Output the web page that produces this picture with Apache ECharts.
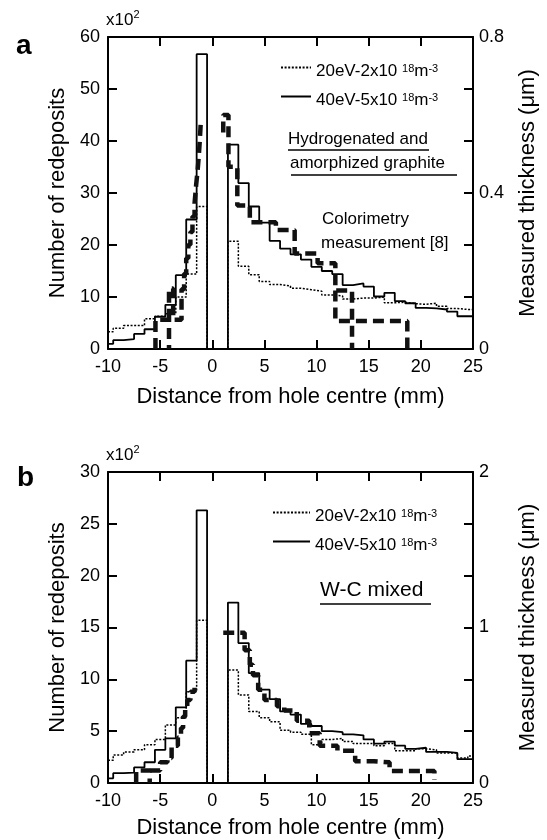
<!DOCTYPE html>
<html>
<head>
<meta charset="utf-8">
<script src="https://cdn.jsdelivr.net/npm/echarts@6/dist/echarts.min.js"></script>
<style>
html, body { margin: 0; padding: 0; background: #fff; }
#chart { width: 547px; height: 840px; }
</style>
</head>
<body>
<div id="chart"></div>
<script>
// bin centres (mm), 1 mm wide bins, first and last are half bins
var binCentres = [-10, -9, -8, -7, -6, -5, -4, -3, -2, -1, 0, 1, 2, 3, 4, 5, 6, 7, 8, 9,
	10, 11, 12, 13, 14, 15, 16, 17, 18, 19, 20, 21, 22, 23, 24, 25];

// (a) hydrogenated and amorphized graphite, x10^2 redeposits
var solidA = [1.0, 1.7, 1.9, 2.9, 3.8, 6.2, 8.5, 14.2, 24.9, 56.7, 0, 0, 39.3, 31.9, 27.4, 24.3,
	20.8, 19.3, 18.2, 17.2, 15.8, 15.0, 14.4, 12.3, 12.6, 12.0, 10.1, 10.8, 9.2, 8.8, 7.9, 7.8,
	7.6, 7.2, 6.3, 6.3];
var dotA = [3.3, 4.0, 4.5, 4.5, 5.8, 6.3, 6.8, 10.0, 14.4, 27.4, 0, 0, 20.7, 15.9, 14.3, 13.0,
	12.4, 12.1, 11.7, 11.4, 11.1, 10.4, 10.2, 9.6, 9.8, 9.8, 10.0, 8.9, 9.0, 8.7, 8.6, 8.8,
	8.2, 7.8, 7.6, 7.6];

// (b) W-C mixed
var solidB = [0.45, 0.95, 1.0, 1.5, 2.0, 3.2, 4.3, 7.3, 11.8, 26.3, 0, 0, 17.4, 13.5, 10.6, 9.0,
	8.1, 6.9, 6.6, 5.7, 5.5, 5.0, 4.9, 4.7, 4.6, 4.2, 3.8, 4.0, 3.6, 3.3, 3.4, 3.0,
	3.0, 2.9, 2.3, 2.3];
var dotB = [2.2, 2.7, 3.0, 3.2, 3.7, 4.2, 5.6, 6.3, 8.8, 15.7, 0, 0, 10.9, 8.5, 6.9, 6.3,
	5.9, 5.1, 4.9, 4.7, 3.7, 4.2, 4.3, 4.0, 3.8, 3.8, 3.6, 3.8, 3.1, 3.1, 3.3, 3.2,
	2.9, 2.9, 2.4, 2.6];

// colorimetry measurement [8], thickness in um, [x mm, um] profile pieces
var measA1 = [[-5.45, 0], [-5.45, 0.075], [-4.15, 0.075], [-4.15, 0]];
var measA2 = [[-4.15, 0.075], [-4.15, 0.155], [-3.75, 0.155], [-3.75, 0.075], [-2.95, 0.075],
	[-2.95, 0.153], [-2.7, 0.153], [-2.7, 0.193], [-2.5, 0.193], [-2.5, 0.233], [-2.3, 0.233],
	[-2.3, 0.267], [-2.1, 0.267], [-2.1, 0.30], [-1.9, 0.30], [-1.9, 0.34], [-1.7, 0.34],
	[-1.7, 0.373], [-1.55, 0.373], [-1.55, 0.42], [-1.4, 0.42], [-1.4, 0.46], [-1.3, 0.46],
	[-1.3, 0.493], [-1.2, 0.493], [-1.2, 0.533], [-1.1, 0.533], [-1.1, 0.583]];
var measA3 = [[1.05, 0.555], [1.05, 0.60], [1.55, 0.60], [1.55, 0.467], [2.4, 0.467], [2.4, 0.368],
	[3.6, 0.368], [3.6, 0.325], [6.1, 0.325], [6.1, 0.305], [7.9, 0.305], [7.9, 0.245],
	[10.1, 0.245], [10.1, 0.22], [11.8, 0.22], [11.8, 0.15], [13.4, 0.15], [13.4, 0]];
var measA4 = [[11.8, 0.15], [11.8, 0.072], [18.7, 0.072], [18.7, 0]];

var measB1 = [[-7.3, 0], [-7.3, 0.08], [-6.0, 0.08], [-6.0, 0]];
var measB2 = [[-6.0, 0.08], [-5.0, 0.08], [-5.0, 0.133], [-4.3, 0.133], [-4.3, 0.16], [-3.9, 0.16],
	[-3.9, 0.24], [-3.3, 0.24], [-3.3, 0.293], [-3.0, 0.293], [-3.0, 0.353], [-2.8, 0.353],
	[-2.8, 0.427], [-2.6, 0.427], [-2.6, 0.487], [-2.4, 0.487], [-2.4, 0.533], [-2.1, 0.533],
	[-2.1, 0.587], [-1.7, 0.587], [-1.7, 0.613]];
var measB3 = [[1.05, 0.967], [3.1, 0.967], [3.1, 0.853], [3.6, 0.853], [3.6, 0.76], [3.9, 0.76],
	[3.9, 0.693], [4.4, 0.693], [4.4, 0.60], [5.0, 0.60], [5.0, 0.533], [6.2, 0.533],
	[6.2, 0.493], [6.9, 0.493], [6.9, 0.467], [8.1, 0.467], [8.1, 0.40], [9.3, 0.40],
	[9.3, 0.32], [10.3, 0.32], [10.3, 0.24], [12.0, 0.24], [12.0, 0.207], [13.7, 0.207],
	[13.7, 0.14], [15.5, 0.14], [15.5, 0.133], [17.0, 0.133], [17.0, 0.077], [21.3, 0.077],
	[21.3, 0.02]];

var xTicks = [-10, 25, 5];
var rightLabelsA = [0, 0.4, 0.8];
var rightLabelsB = [0, 1, 2];

var FF = '"Liberation Sans", Arial, sans-serif';

// histogram bins -> step line points
function stepPts(vals) {
	var pts = [];
	for (var i = 0; i < vals.length; i++) {
		var left = i === 0 ? xTicks[0] : binCentres[i] - 0.5;
		pts.push([left, vals[i]]);
	}
	pts.push([xTicks[1], vals[vals.length - 1]]);
	return pts;
}

var axisLine = { onZero : false, lineStyle : { color : '#000', width : 2 } };
var axisTick = { inside : true, length : 9, lineStyle : { color : '#000', width : 2 } };
var labelStyle = { color : '#000', fontSize : 18, fontFamily : FF };

function xAxes(grid, gap) {
	return [ {
		gridIndex : grid, type : 'value', position : 'bottom',
		min : xTicks[0], max : xTicks[1], interval : xTicks[2],
		axisLine : axisLine, axisTick : axisTick, splitLine : { show : false },
		axisLabel : Object.assign({ margin : 9 }, labelStyle),
		name : 'Distance from hole centre (mm)', nameLocation : 'middle', nameGap : gap,
		nameTextStyle : { color : '#000', fontSize : 22, fontFamily : FF }
	}, {
		gridIndex : grid, type : 'value', position : 'top',
		min : xTicks[0], max : xTicks[1], interval : xTicks[2],
		axisLine : axisLine, axisTick : axisTick, splitLine : { show : false },
		axisLabel : { show : false }
	} ];
}

function yAxes(grid, max, step, rmax, rlabels) {
	return [ {
		gridIndex : grid, type : 'value', position : 'left',
		min : 0, max : max, interval : step,
		axisLine : axisLine, axisTick : axisTick, splitLine : { show : false },
		axisLabel : Object.assign({ margin : 8 }, labelStyle),
		name : 'Number of redeposits', nameLocation : 'middle', nameGap : 37, nameRotate : 90,
		nameTextStyle : { color : '#000', fontSize : 22, fontFamily : FF }
	}, {
		gridIndex : grid, type : 'value', position : 'right',
		min : 0, max : rmax, interval : rmax / 6,
		axisLine : axisLine, axisTick : axisTick, splitLine : { show : false },
		axisLabel : Object.assign({
			margin : 6,
			formatter : function(v) {
				var r = Math.round(v * 100) / 100;
				return rlabels.indexOf(r) >= 0 ? String(r) : '';
			}
		}, labelStyle),
		name : 'Measured thickness (\u03bcm)', nameLocation : 'middle', nameGap : 44, nameRotate : 90,
		nameTextStyle : { color : '#000', fontSize : 22, fontFamily : FF }
	} ];
}

function histSeries(name, xi, yi, vals, dotted) {
	return {
		name : name, type : 'line', step : 'end', xAxisIndex : xi, yAxisIndex : yi,
		symbol : 'none', silent : true, z : dotted ? 2 : 3, color : '#000',
		lineStyle : { color : '#000', width : dotted ? 1.5 : 1.8, type : dotted ? [2, 1.6] : 'solid' },
		data : stepPts(vals)
	};
}

function measSeries(xi, yi, pts) {
	return {
		type : 'line', xAxisIndex : xi, yAxisIndex : yi, symbol : 'none', silent : true, z : 4,
		color : '#111',
		lineStyle : { color : '#111', width : 4.5, type : [11, 6] },
		data : pts
	};
}

var legendRich = {
	a : { fontSize : 17, lineHeight : 17, fontFamily : FF, color : '#000', padding : [8, 0, 0, 0] },
	s : { fontSize : 11, lineHeight : 11, fontFamily : FF, color : '#000', verticalAlign : 'top', padding : [4, 0, 0, 0] }
};
var legendNames = { d20 : '{a|20eV-2x10 }{s|18}{a|m}{s|-3}', s40 : '{a|40eV-5x10 }{s|18}{a|m}{s|-3}' };

function legendAt(left, top, w) {
	return {
		left : left, top : top, orient : 'vertical', padding : 0, itemGap : 4,
		itemWidth : w, itemHeight : 10, selectedMode : false,
		itemStyle : { color : 'rgba(0,0,0,0)', borderColor : 'rgba(0,0,0,0)', borderWidth : 0, opacity : 0 },
		data : [ 'd20', 's40' ],
		formatter : function(n) { return legendNames[n]; },
		textStyle : { rich : legendRich }
	};
}

function txt(left, top, text, size, weight) {
	return { type : 'text', left : left, top : top, silent : true,
		style : { text : text, fill : '#000', font : (weight || 'normal') + ' ' + size + 'px ' + FF } };
}
function uline(x1, x2, y) {
	return { type : 'line', silent : true, shape : { x1 : x1, y1 : y, x2 : x2, y2 : y },
		style : { stroke : '#000', lineWidth : 1.5 } };
}
function x10(left, top) {
	return { type : 'text', left : left, top : top, silent : true,
		style : { text : '{a|x10}{s|2}', rich : {
			a : { fontSize : 17, lineHeight : 17, fontFamily : FF, color : '#000', padding : [6, 0, 0, 0] },
			s : { fontSize : 11, lineHeight : 11, fontFamily : FF, color : '#000', verticalAlign : 'top' } } } };
}

var myChart = echarts.init(document.getElementById('chart'));

var option = {
	animation : false,
	backgroundColor : '#fff',
	grid : [ { left : 108, top : 37, width : 374, height : 312 },
		{ left : 108, top : 472, width : 374, height : 312 } ],
	xAxis : xAxes(0, 37).concat(xAxes(1, 34)),
	yAxis : yAxes(0, 60, 10, 0.8, rightLabelsA).concat(yAxes(1, 30, 5, 2, rightLabelsB)),
	legend : [ legendAt(280, 55, 30), legendAt(272, 500, 37) ],
	series : [
		histSeries('d20', 0, 0, dotA, true),
		histSeries('s40', 0, 0, solidA, false),
		measSeries(0, 1, measA1), measSeries(0, 1, measA2),
		measSeries(0, 1, measA3), measSeries(0, 1, measA4),
		histSeries('d20', 2, 2, dotB, true),
		histSeries('s40', 2, 2, solidB, false),
		measSeries(2, 3, measB1), measSeries(2, 3, measB2), measSeries(2, 3, measB3)
	],
	graphic : [
		txt(16, 32, 'a', 28, 'bold'),
		txt(17, 464, 'b', 28, 'bold'),
		x10(106, 6), x10(106, 441),
		txt(288, 131, 'Hydrogenated and', 17), uline(288, 429, 150),
		txt(290, 155, 'amorphized graphite', 17), uline(291, 457, 175),
		txt(322, 211, 'Colorimetry', 17),
		txt(321, 235, 'measurement [8]', 17),
		txt(320, 580, 'W-C mixed', 21), uline(320, 431, 604)
	]
};

myChart.setOption(option);
</script>
</body>
</html>
